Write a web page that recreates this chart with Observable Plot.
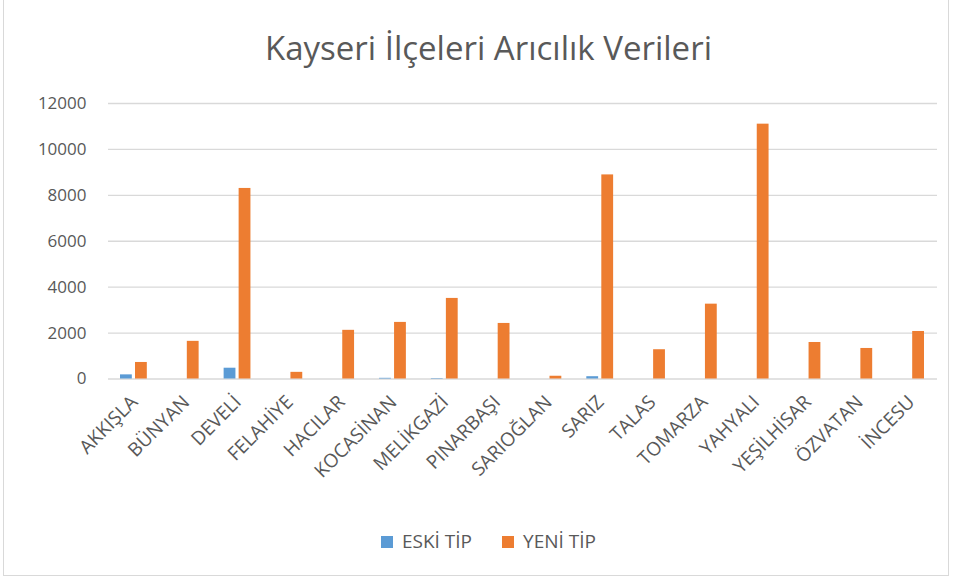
<!DOCTYPE html>
<html><head><meta charset="utf-8">
<script src="https://cdn.jsdelivr.net/npm/d3@7"></script>
<script src="https://cdn.jsdelivr.net/npm/@observablehq/plot@0.6"></script>
<style>
body{margin:0;background:#fff;font-family:"Open Sans",sans-serif;}
#wrap{position:relative;width:957px;height:578px;overflow:hidden;}
#frame{position:absolute;left:3px;top:-1px;width:946px;height:577px;border:1px solid #d9d9d9;box-sizing:border-box;}
#title{position:absolute;left:10px;top:0;width:957px;height:90px;text-align:center;line-height:96px;font-size:33px;color:#595959;}
#chart{position:absolute;left:0;top:90px;}
#legend{position:absolute;left:0;top:520px;width:957px;height:42px;display:flex;justify-content:center;align-items:center;gap:30px;font-size:19px;color:#595959;padding-left:20px;box-sizing:border-box;}
.sw{display:inline-block;width:12px;height:12px;margin-right:9px;}
</style></head>
<body><div id="wrap"><div id="frame"></div>
<div id="title">Kayseri İlçeleri Arıcılık Verileri</div>
<div id="chart"></div>
<div id="legend"><span><span class="sw" style="background:#5B9BD5"></span>ESKİ TİP</span><span><span class="sw" style="background:#ED7D31"></span>YENİ TİP</span></div>
</div>
<script>
const districts = ["AKKIŞLA","BÜNYAN","DEVELİ","FELAHİYE","HACILAR","KOCASİNAN","MELİKGAZİ","PINARBAŞI","SARIOĞLAN","SARIZ","TALAS","TOMARZA","YAHYALI","YEŞİLHİSAR","ÖZVATAN","İNCESU"];
const eskiTip = [180, 0, 470, 0, 0, 30, 20, 0, 0, 100, 0, 0, 0, 0, 0, 0];
const yeniTip = [720, 1640, 8300, 290, 2120, 2465, 3510, 2420, 120, 8890, 1275, 3260, 11100, 1590, 1330, 2070];
const yTicks = [0, 2000, 4000, 6000, 8000, 10000, 12000];

const eski = districts.map((d, i) => ({district: d, value: eskiTip[i]}));
const yeni = districts.map((d, i) => ({district: d, value: yeniTip[i]}));

const chart = Plot.plot({
  width: 957,
  height: 430,
  marginLeft: 108,
  marginRight: 20,
  marginTop: 13,
  marginBottom: 141.5,
  style: {fontFamily: "'Open Sans', sans-serif", color: "#595959", background: "transparent"},
  x: {domain: districts, padding: 0, round: false, label: null},
  y: {domain: [0, 12000], label: null},
  marks: [
    Plot.ruleY(yTicks, {stroke: "#d9d9d9", strokeWidth: 1.3}),
    Plot.axisY(yTicks, {tickSize: 0, tickPadding: 22, fontSize: 17, fill: "#595959", tickFormat: d => String(d), label: null}),
    Plot.axisX({tickSize: 0, tickPadding: 20, tickRotate: -45, fontSize: 19, fill: "#595959", label: null}),
    Plot.barY(eski, {x: "district", y: "value", fill: "#5B9BD5", insetLeft: 12, insetRight: 28}),
    Plot.barY(yeni, {x: "district", y: "value", fill: "#ED7D31", insetLeft: 27, insetRight: 13})
  ]
});
document.getElementById("chart").appendChild(chart);
</script>
</body></html>
